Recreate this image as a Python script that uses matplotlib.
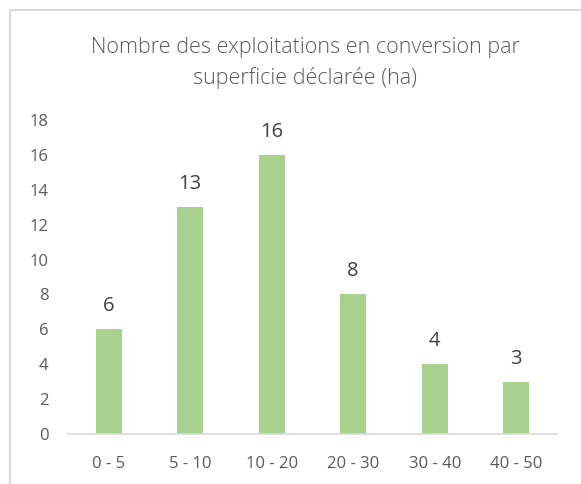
import matplotlib.pyplot as plt
from matplotlib.patches import Rectangle

categories = ['0 - 5', '5 - 10', '10 - 20', '20 - 30', '30 - 40', '40 - 50']
counts = [6, 13, 16, 8, 4, 3]
y_ticks = [0, 2, 4, 6, 8, 10, 12, 14, 16, 18]

plt.rcParams['font.family'] = ['Open Sans', 'DejaVu Sans']

W, H = 581, 484
fig = plt.figure(figsize=(W / 100, H / 100), dpi=100)
ax = fig.add_axes([68 / W, 1 - 434 / H, (557 - 68) / W, (434 - 120) / H])

# chart frame, cut off at right and bottom like the source
fig.patches.append(Rectangle((9.5 / W, -0.1), 1.2, 1 - 9.5 / H + 0.1,
                             transform=fig.transFigure, fill=False,
                             edgecolor='#d9d9d9', linewidth=1.5))

x = range(len(categories))
bars = ax.bar(x, counts, width=0.32, color='#a9d18e')
for xi, v in zip(x, counts):
  ax.text(xi, v + 0.75, str(v), ha='center', va='bottom',
          fontsize=14.5, color='#404040')

ax.set_xlim(-0.5, len(categories) - 0.5)
ax.set_ylim(0, 18)
ax.set_yticks(y_ticks)
ax.set_xticks(list(x))
ax.set_xticklabels(categories)
ax.tick_params(axis='both', length=0, labelsize=12, labelcolor='#595959')
ax.tick_params(axis='x', pad=16)
ax.tick_params(axis='y', pad=14)
for s in ['top', 'right', 'left']:
  ax.spines[s].set_visible(False)
ax.spines['bottom'].set_color('#d9d9d9')
ax.spines['bottom'].set_linewidth(1.2)

fig.text(305 / W, 1 - 48 / H, 'Nombre des exploitations en conversion par',
         ha='center', va='center', fontsize=15.5, color='#595959', fontweight='light')
fig.text(305 / W, 1 - 78 / H, 'superficie déclarée (ha)',
         ha='center', va='center', fontsize=15.5, color='#595959', fontweight='light')

fig.savefig('out.png', dpi=100)
